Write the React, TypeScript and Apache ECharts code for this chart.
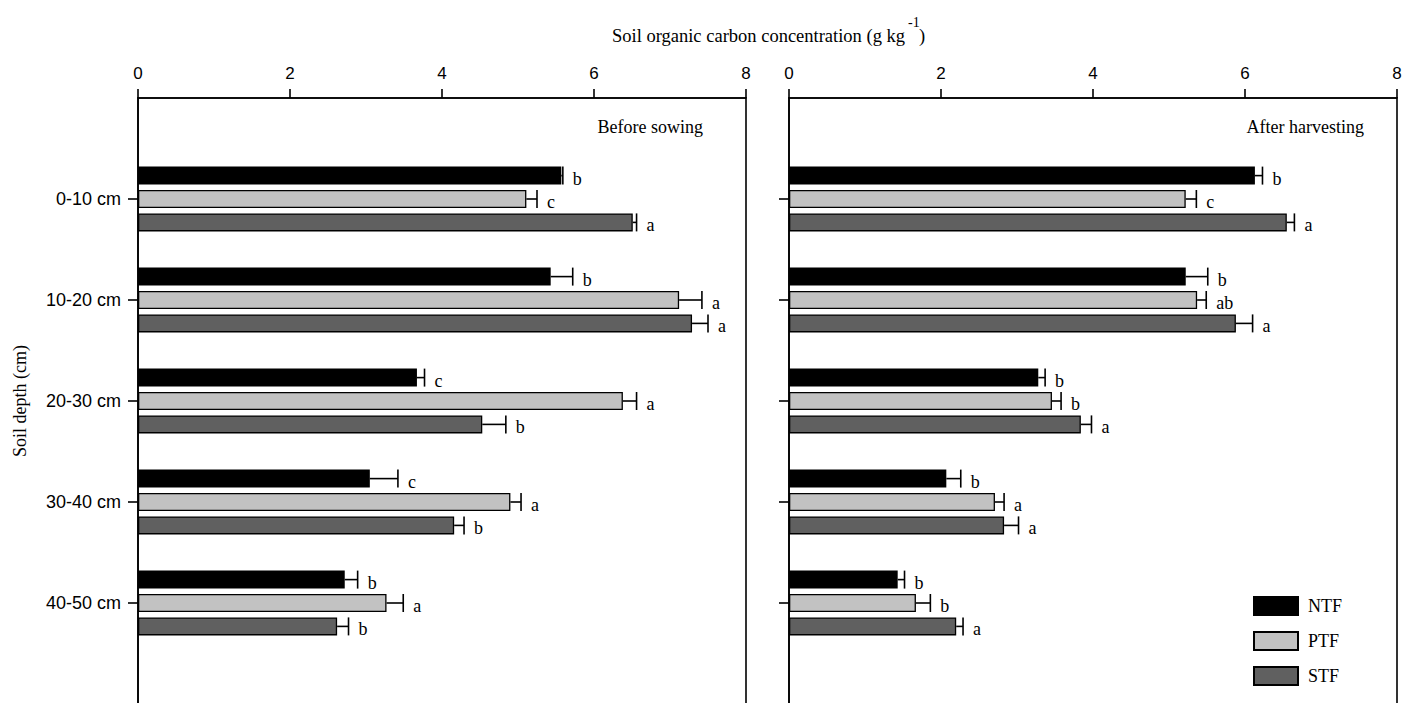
import React, { useEffect, useRef } from "react";
import * as echarts from "echarts";

const categories = ["0-10 cm", "10-20 cm", "20-30 cm", "30-40 cm", "40-50 cm"];
const yCats = [" ", ...categories, "  "];
const treatments = ["NTF", "PTF", "STF"];

// Before sowing
const beforeNTF = [5.57, 5.43, 3.67, 3.05, 2.72];
const beforeNTFErr = [0.02, 0.29, 0.1, 0.37, 0.17];
const beforeNTFLetters = ["b", "b", "c", "c", "b"];
const beforePTF = [5.11, 7.12, 6.38, 4.9, 3.27];
const beforePTFErr = [0.14, 0.3, 0.18, 0.14, 0.22];
const beforePTFLetters = ["c", "a", "a", "a", "a"];
const beforeSTF = [6.51, 7.29, 4.53, 4.16, 2.62];
const beforeSTFErr = [0.05, 0.21, 0.31, 0.13, 0.15];
const beforeSTFLetters = ["a", "a", "b", "b", "b"];

// After harvesting
const afterNTF = [6.13, 5.22, 3.28, 2.07, 1.43];
const afterNTFErr = [0.1, 0.29, 0.09, 0.19, 0.09];
const afterNTFLetters = ["b", "b", "b", "b", "b"];
const afterPTF = [5.22, 5.37, 3.46, 2.71, 1.67];
const afterPTFErr = [0.14, 0.12, 0.12, 0.12, 0.19];
const afterPTFLetters = ["c", "ab", "b", "a", "b"];
const afterSTF = [6.55, 5.88, 3.84, 2.83, 2.2];
const afterSTFErr = [0.1, 0.22, 0.14, 0.19, 0.09];
const afterSTFLetters = ["a", "a", "a", "a", "a"];

const colors: Record<string, string> = { NTF: "#000000", PTF: "#c2c2c2", STF: "#606060" };
const SERIF = '"Liberation Serif", "Times New Roman", serif';
const SANS = '"Liberation Sans", Arial, sans-serif';
const BAR_W = 18;
const BAR_GAP = 0.3;
const offsets = [-(BAR_W + BAR_W * BAR_GAP), 0, BAR_W + BAR_W * BAR_GAP];

function barSeries(grid: number, name: string, vals: number[]) {
  return {
    type: "bar",
    name,
    xAxisIndex: grid,
    yAxisIndex: grid,
    data: ["-", ...vals, "-"],
    barWidth: BAR_W,
    barGap: "30%",
    itemStyle: { color: colors[name], borderColor: "#000", borderWidth: 1.3 },
    silent: true,
  };
}

function errSeries(grid: number, vals: number[], errs: number[], letters: string[], offset: number) {
  return {
    type: "custom",
    xAxisIndex: grid,
    yAxisIndex: grid,
    z: 5,
    clip: false,
    silent: true,
    data: vals.map((v, i) => [v, i + 1, errs[i]]),
    encode: { x: 0, y: 1 },
    renderItem: (params: any, api: any) => {
      const v = api.value(0);
      const c = api.value(1);
      const e = api.value(2);
      const a = api.coord([v, c]);
      const b = api.coord([v + e, c]);
      const y = a[1] + offset;
      return {
        type: "group",
        children: [
          { type: "line", shape: { x1: a[0], y1: y, x2: b[0], y2: y }, style: { stroke: "#000", lineWidth: 1.6 } },
          { type: "line", shape: { x1: b[0], y1: y - 9, x2: b[0], y2: y + 9 }, style: { stroke: "#000", lineWidth: 1.6 } },
          {
            type: "text",
            x: b[0] + 10,
            y: y + 3,
            style: {
              text: letters[params.dataIndex],
              font: `18px ${SERIF}`,
              fill: "#000",
              align: "left",
              verticalAlign: "middle",
            },
          },
        ],
      };
    },
  };
}

export default function App() {
  const ref = useRef<HTMLDivElement>(null);
  useEffect(() => {
    if (!ref.current) return;
    const chart = echarts.init(ref.current, null, { renderer: "svg" });
    const xAxisBase = (grid: number) => ({
      type: "value",
      gridIndex: grid,
      position: "top",
      min: 0,
      max: 8,
      interval: 2,
      axisLine: { show: true, lineStyle: { color: "#000", width: 1.6 } },
      axisTick: { show: true, inside: false, length: 9, lineStyle: { color: "#000", width: 1.6 } },
      axisLabel: { color: "#000", fontFamily: SANS, fontSize: 17, margin: 16 },
      splitLine: { show: false },
    });
    const yAxisBase = (grid: number, showLabel: boolean) => ({
      type: "category",
      gridIndex: grid,
      data: yCats,
      inverse: true,
      boundaryGap: false,
      axisLine: { show: true, lineStyle: { color: "#000", width: 1.6 } },
      axisTick: {
        show: true,
        inside: false,
        length: 10,
        interval: (i: number) => i > 0 && i < yCats.length - 1,
        lineStyle: { color: "#000", width: 1.6 },
      },
      axisLabel: { show: showLabel, color: "#000", fontFamily: SANS, fontSize: 18, margin: 17, interval: 0 },
      splitLine: { show: false },
    });
    const gridBase = (left: number) => ({
      left,
      top: 98,
      width: 608,
      height: 606,
      show: true,
      borderColor: "#000",
      borderWidth: 1.6,
      backgroundColor: "transparent",
      containLabel: false,
    });
    const option: any = {
      animation: false,
      backgroundColor: "#fff",
      grid: [gridBase(138), gridBase(789)],
      xAxis: [xAxisBase(0), xAxisBase(1)],
      yAxis: [yAxisBase(0, true), yAxisBase(1, false)],
      legend: {
        data: treatments,
        orient: "vertical",
        left: 1248,
        top: 591,
        itemWidth: 44,
        itemHeight: 18,
        itemGap: 15,
        icon: "rect",
        selectedMode: false,
        textStyle: { color: "#000", fontFamily: SERIF, fontSize: 18, padding: [0, 0, 0, 5] },
      },
      graphic: [
        {
          type: "text",
          left: 612,
          top: 26,
          style: { text: "Soil organic carbon concentration (g kg", font: `18.5px ${SERIF}`, fill: "#000" },
        },
        { type: "text", left: 908, top: 15, style: { text: "-1", font: `14px ${SERIF}`, fill: "#000" } },
        { type: "text", left: 919, top: 26, style: { text: ")", font: `18.5px ${SERIF}`, fill: "#000" } },
        {
          type: "text",
          right: 1413 - 703,
          top: 118,
          style: { text: "Before sowing", font: `18px ${SERIF}`, fill: "#000" },
        },
        {
          type: "text",
          right: 1413 - 1364,
          top: 118,
          style: { text: "After harvesting", font: `18px ${SERIF}`, fill: "#000" },
        },
        {
          type: "text",
          x: 20,
          y: 401,
          rotation: Math.PI / 2,
          style: {
            text: "Soil depth (cm)",
            font: `18px ${SERIF}`,
            fill: "#000",
            align: "center",
            verticalAlign: "middle",
          },
        },
      ],
      series: [
        barSeries(0, "NTF", beforeNTF),
        barSeries(0, "PTF", beforePTF),
        barSeries(0, "STF", beforeSTF),
        barSeries(1, "NTF", afterNTF),
        barSeries(1, "PTF", afterPTF),
        barSeries(1, "STF", afterSTF),
        errSeries(0, beforeNTF, beforeNTFErr, beforeNTFLetters, offsets[0]),
        errSeries(0, beforePTF, beforePTFErr, beforePTFLetters, offsets[1]),
        errSeries(0, beforeSTF, beforeSTFErr, beforeSTFLetters, offsets[2]),
        errSeries(1, afterNTF, afterNTFErr, afterNTFLetters, offsets[0]),
        errSeries(1, afterPTF, afterPTFErr, afterPTFLetters, offsets[1]),
        errSeries(1, afterSTF, afterSTFErr, afterSTFLetters, offsets[2]),
      ],
    };
    chart.setOption(option);
    return () => chart.dispose();
  }, []);
  return (
    <div style={{ position: "fixed", left: 0, top: 0, width: 1413, height: 703, overflow: "hidden", background: "#fff" }}>
      <div ref={ref} style={{ width: 1413, height: 720 }} />
    </div>
  );
}
